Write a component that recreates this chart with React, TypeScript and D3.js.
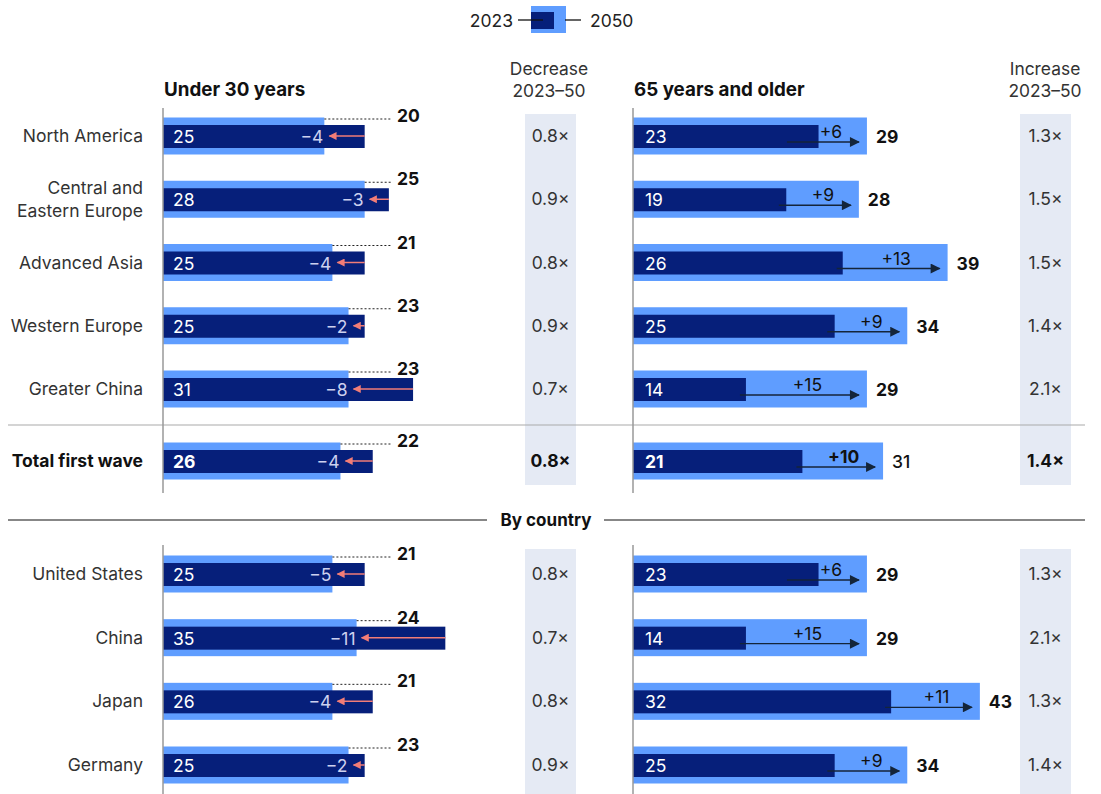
import React from "react";
import * as d3 from "d3";

const regions = ["North America", "Central and\nEastern Europe", "Advanced Asia", "Western Europe", "Greater China"];
const totalLabel = "Total first wave";
const countries = ["United States", "China", "Japan", "Germany"];

const youngRegion2023 = [25, 28, 25, 25, 31];
const youngRegion2050 = [20, 25, 21, 23, 23];
const youngRegionChange = [-4, -3, -4, -2, -8];
const decreaseRegion = ["0.8×", "0.9×", "0.8×", "0.9×", "0.7×"];
const oldRegion2023 = [23, 19, 26, 25, 14];
const oldRegion2050 = [29, 28, 39, 34, 29];
const oldRegionChange = [6, 9, 13, 9, 15];
const increaseRegion = ["1.3×", "1.5×", "1.5×", "1.4×", "2.1×"];

const youngTotal = [26, 22, -4];
const oldTotal = [21, 31, 10];
const decreaseTotal = "0.8×";
const increaseTotal = "1.4×";

const youngCountry2023 = [25, 35, 26, 25];
const youngCountry2050 = [21, 24, 21, 23];
const youngCountryChange = [-5, -11, -4, -2];
const decreaseCountry = ["0.8×", "0.7×", "0.8×", "0.9×"];
const oldCountry2023 = [23, 14, 32, 25];
const oldCountry2050 = [29, 29, 43, 34];
const oldCountryChange = [6, 15, 11, 9];
const increaseCountry = ["1.3×", "2.1×", "1.3×", "1.4×"];

const DARK = "#061f7a";
const LIGHT = "#5f9dff";
const SHADE = "#e5eaf4";
const SALMON = "#f27d77";
const FONT = "Inter, 'Liberation Sans', Arial, sans-serif";

type Row = {
  label: string;
  y: number;
  y23: number;
  y50: number;
  yc: number;
  dec: string;
  o23: number;
  o50: number;
  oc: number;
  inc: string;
  total?: boolean;
};

const fmt = (v: number) => (v < 0 ? "\u2212" + Math.abs(v) : "+" + v);

export default function App() {
  const W = 1101, H = 794;
  const xL = d3.scaleLinear().domain([0, 45]).range([163, 163 + 363]);
  const xR = d3.scaleLinear().domain([0, 45]).range([633, 633 + 363]);
  const yRegion = d3.scalePoint<string>().domain(regions).range([136, 389]);
  const yCountry = d3.scalePoint<string>().domain(countries).range([574, 765]);
  const yTotal = 461;

  const rows: Row[] = [
    ...regions.map((r, i) => ({
      label: r, y: yRegion(r)!, y23: youngRegion2023[i], y50: youngRegion2050[i], yc: youngRegionChange[i],
      dec: decreaseRegion[i], o23: oldRegion2023[i], o50: oldRegion2050[i], oc: oldRegionChange[i], inc: increaseRegion[i],
    })),
    {
      label: totalLabel, y: yTotal, y23: youngTotal[0], y50: youngTotal[1], yc: youngTotal[2], dec: decreaseTotal,
      o23: oldTotal[0], o50: oldTotal[1], oc: oldTotal[2], inc: increaseTotal, total: true,
    },
    ...countries.map((c, i) => ({
      label: c, y: yCountry(c)!, y23: youngCountry2023[i], y50: youngCountry2050[i], yc: youngCountryChange[i],
      dec: decreaseCountry[i], o23: oldCountry2023[i], o50: oldCountry2050[i], oc: oldCountryChange[i], inc: increaseCountry[i],
    })),
  ];

  const LH = 18.5; // half height light bar
  const DT = 11, DB = 12; // dark bar top/bottom offsets

  return (
    <svg width={W} height={H} style={{ position: "absolute", left: 0, top: 0, fontFamily: FONT }}>
      <defs>
        <marker id="arrL" viewBox="0 0 10 10" refX="9" refY="5" markerWidth="9" markerHeight="8" orient="auto" markerUnits="userSpaceOnUse">
          <path d="M0,0 L10,5 L0,10 z" fill={SALMON} />
        </marker>
        <marker id="arrR" viewBox="0 0 10 10" refX="9" refY="5" markerWidth="11" markerHeight="10" orient="auto" markerUnits="userSpaceOnUse">
          <path d="M0,0 L10,5 L0,10 z" fill="#14253a" />
        </marker>
      </defs>

      {/* legend */}
      <g>
        <text x={513} y={27} textAnchor="end" fontSize={17.5} fill="#222">2023</text>
        <rect x={531} y={6} width={35} height={27} fill={LIGHT} />
        <rect x={531} y={12} width={23} height={17} fill={DARK} />
        <line x1={518} x2={543} y1={20} y2={20} stroke="#111" strokeWidth={1.3} />
        <line x1={565} x2={581} y1={20} y2={20} stroke="#111" strokeWidth={1.3} />
        <text x={590} y={27} fontSize={17.5} fill="#222">2050</text>
      </g>

      {/* headers */}
      <text x={164} y={96} fontSize={18.8} fontWeight={700} fill="#111">Under 30 years</text>
      <text x={634} y={96} fontSize={18.8} fontWeight={700} fill="#111">65 years and older</text>
      <text x={549} y={75} textAnchor="middle" fontSize={17.4} fill="#333">Decrease</text>
      <text x={549} y={97} textAnchor="middle" fontSize={17.4} fill="#333">2023–50</text>
      <text x={1045} y={75} textAnchor="middle" fontSize={17.4} fill="#333">Increase</text>
      <text x={1045} y={97} textAnchor="middle" fontSize={17.4} fill="#333">2023–50</text>

      {/* shaded ratio columns */}
      <rect x={525} y={114} width={51} height={371} fill={SHADE} />
      <rect x={525} y={549} width={51} height={245} fill={SHADE} />
      <rect x={1020} y={114} width={51} height={371} fill={SHADE} />
      <rect x={1020} y={549} width={51} height={245} fill={SHADE} />

      {/* separators */}
      <line x1={8} x2={1085} y1={425} y2={425} stroke="#aaa" strokeWidth={1.2} />
      <line x1={8} x2={487} y1={520} y2={520} stroke="#111" strokeWidth={1.2} />
      <line x1={604} x2={1085} y1={520} y2={520} stroke="#111" strokeWidth={1.2} />
      <text x={546} y={526} textAnchor="middle" fontSize={17} fontWeight={700} fill="#111">By country</text>

      {rows.map((r, i) => {
        const cy = r.y;
        const l23 = xL(r.y23), l50 = xL(r.y50);
        const r23 = xR(r.o23), r50 = xR(r.o50);
        const aStart = Math.min(r23 - 6, r50 - 80);
        const aTip = r50 - 8;
        const lines = r.label.split("\n");
        return (
          <g key={i}>
            {/* category label */}
            {lines.length === 1 ? (
              <text x={143} y={cy + 6} textAnchor="end" fontSize={17.5} fontWeight={r.total ? 700 : 400} fill={r.total ? "#111" : "#333"}>{r.label}</text>
            ) : (
              lines.map((t, k) => (
                <text key={k} x={143} y={cy - 5 + k * 23} textAnchor="end" fontSize={17.5} fill="#333">{t}</text>
              ))
            )}

            {/* left: under 30 */}
            <rect x={xL(0)} y={cy - LH} width={l50 - xL(0)} height={LH * 2} fill={LIGHT} />
            <rect x={xL(0)} y={cy - DT} width={l23 - xL(0)} height={DT + DB} fill={DARK} />
            <line x1={l50} x2={392} y1={cy - LH + 1.5} y2={cy - LH + 1.5} stroke="#222" strokeWidth={1} strokeDasharray="2,2" />
            <text x={397} y={cy - 14} fontSize={17.5} fontWeight={700} fill="#111">{r.y50}</text>
            <text x={173} y={cy + 7} fontSize={17.5} fontWeight={r.total ? 700 : 400} fill="#fff">{r.y23}</text>
            <line x1={l23} x2={l50 + 5} y1={cy} y2={cy} stroke={SALMON} strokeWidth={1.5} markerEnd="url(#arrL)" />
            <text x={l50 - 1} y={cy + 7} textAnchor="end" fontSize={17.5} fill="#cdd1ef">{fmt(r.yc)}</text>

            {/* ratio decrease */}
            <text x={550.5} y={cy + 6} textAnchor="middle" fontSize={17.5} fontWeight={r.total ? 700 : 400} fill={r.total ? "#111" : "#333"}>{r.dec}</text>

            {/* right: 65+ */}
            <rect x={xR(0)} y={cy - LH} width={r50 - xR(0)} height={LH * 2} fill={LIGHT} />
            <rect x={xR(0)} y={cy - DT} width={r23 - xR(0)} height={DT + DB} fill={DARK} />
            <text x={645} y={cy + 7} fontSize={17.5} fontWeight={r.total ? 700 : 400} fill="#fff">{r.o23}</text>
            <line x1={aStart} x2={aTip} y1={cy + 6} y2={cy + 6} stroke="#14253a" strokeWidth={1.3} markerEnd="url(#arrR)" />
            <text x={(aStart + aTip) / 2 + 8} y={cy + 2} textAnchor="middle" fontSize={17.5} fontWeight={r.total ? 700 : 400} fill="#111">{fmt(r.oc)}</text>
            <text x={r50 + 9} y={cy + 7} fontSize={17.5} fontWeight={r.total ? 500 : 700} fill="#111">{r.o50}</text>

            {/* ratio increase */}
            <text x={1045.5} y={cy + 6} textAnchor="middle" fontSize={17.5} fontWeight={r.total ? 700 : 400} fill={r.total ? "#111" : "#333"}>{r.inc}</text>
          </g>
        );
      })}

      {/* axes */}
      <line x1={163} x2={163} y1={108} y2={493} stroke="#999" strokeWidth={1.5} />
      <line x1={163} x2={163} y1={545} y2={794} stroke="#999" strokeWidth={1.5} />
      <line x1={633} x2={633} y1={108} y2={493} stroke="#999" strokeWidth={1.5} />
      <line x1={633} x2={633} y1={545} y2={794} stroke="#999" strokeWidth={1.5} />
    </svg>
  );
}
